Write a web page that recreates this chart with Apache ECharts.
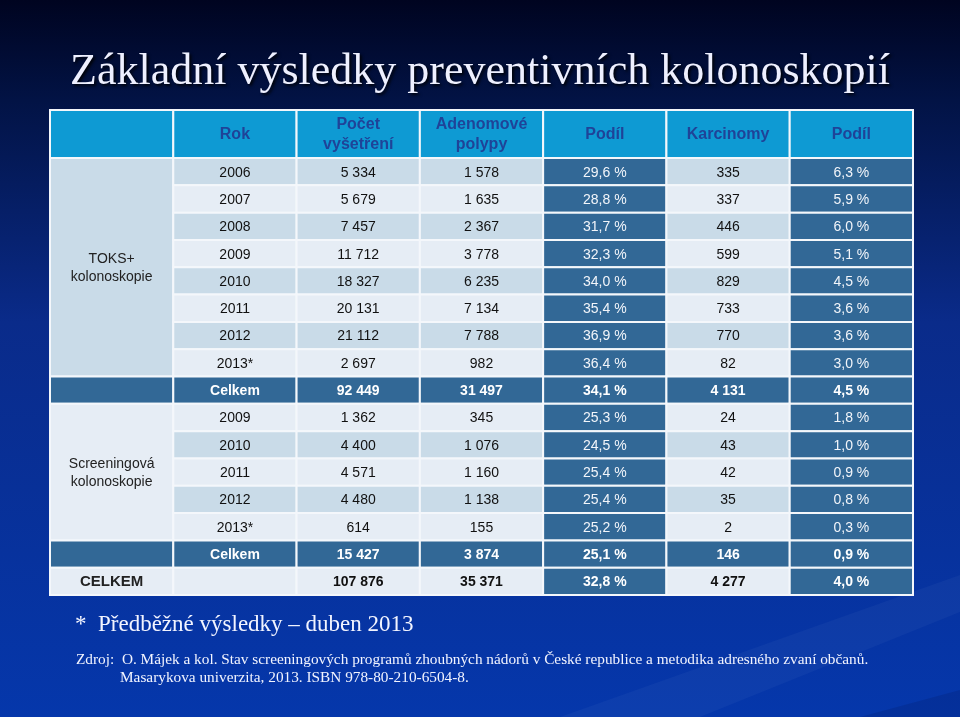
<!DOCTYPE html>
<html><head><meta charset="utf-8">
<script src="https://cdn.jsdelivr.net/npm/echarts@6/dist/echarts.min.js"></script>
<style>html,body{margin:0;padding:0;background:#031050}#c{width:960px;height:717px}</style>
</head><body><div id="c"></div>
<script>
// ---- data ----
const headers = ['', 'Rok', 'Počet\nvyšetření', 'Adenomové\npolypy', 'Podíl', 'Karcinomy', 'Podíl'];
const groupLabels = ['TOKS+\nkolonoskopie', 'Screeningová\nkolonoskopie'];
const toksYears = ['2006', '2007', '2008', '2009', '2010', '2011', '2012', '2013*'];
const toksExams = [5334, 5679, 7457, 11712, 18327, 20131, 21112, 2697];
const toksAdenoma = [1578, 1635, 2367, 3778, 6235, 7134, 7788, 982];
const toksAdenomaShare = [29.6, 28.8, 31.7, 32.3, 34.0, 35.4, 36.9, 36.4];
const toksCarcinoma = [335, 337, 446, 599, 829, 733, 770, 82];
const toksCarcinomaShare = [6.3, 5.9, 6.0, 5.1, 4.5, 3.6, 3.6, 3.0];
const toksTotal = [92449, 31497, 34.1, 4131, 4.5];
const scrYears = ['2009', '2010', '2011', '2012', '2013*'];
const scrExams = [1362, 4400, 4571, 4480, 614];
const scrAdenoma = [345, 1076, 1160, 1138, 155];
const scrAdenomaShare = [25.3, 24.5, 25.4, 25.4, 25.2];
const scrCarcinoma = [24, 43, 42, 35, 2];
const scrCarcinomaShare = [1.8, 1.0, 0.9, 0.8, 0.3];
const scrTotal = [15427, 3874, 25.1, 146, 0.9];
const grandTotal = [107876, 35371, 32.8, 4277, 4.0];
const totalLabel = 'Celkem';
const grandLabel = 'CELKEM';
const titleText = 'Základní výsledky preventivních kolonoskopií';
const footnote = '*  Předběžné výsledky – duben 2013';
const source1 = 'Zdroj:  O. Májek a kol. Stav screeningových programů zhoubných nádorů v České republice a metodika adresného zvaní občanů.';
const source2 = 'Masarykova univerzita, 2013. ISBN 978-80-210-6504-8.';

// ---- formatting ----
const fmtInt = v => String(v).replace(/\B(?=(\d{3})+(?!\d))/g, ' ');
const fmtPct = v => v.toFixed(1).replace('.', ',') + ' %';

// ---- build cells ----
const HEAD = 1.76;
const C = { head: '#0e9ad3', headText: '#1f4398', dark: '#326896', lightA: '#c9dbe8', lightB: '#e6edf5' };
const cells = [];
function add(col, row, span, text, fill, color, bold, size) {
  cells.push({ col, row, span, text, fill, color, bold, size });
}
headers.forEach((h, i) => add(i, 0, HEAD, h, C.head, C.headText, true, 16));
const light = r => (r % 2 === 0 ? C.lightA : C.lightB);
function addRow(r, vals, total) {
  const isPct = [false, false, false, true, false, true];
  vals.forEach((v, k) => {
    const col = k + 1;
    const txt = typeof v === 'string' ? v : (isPct[k] ? fmtPct(v) : fmtInt(v));
    const darkCol = col === 4 || col === 6;
    if (total) add(col, HEAD + r, 1, txt, C.dark, '#ffffff', true, 14);
    else if (darkCol) add(col, HEAD + r, 1, txt, C.dark, '#f2f5fa', false, 14);
    else add(col, HEAD + r, 1, txt, light(r), '#111111', false, 14);
  });
}
let r = 0;
add(0, HEAD, toksYears.length, groupLabels[0], C.lightA, '#222222', false, 14);
toksYears.forEach((y, i) => { addRow(r, [y, toksExams[i], toksAdenoma[i], toksAdenomaShare[i], toksCarcinoma[i], toksCarcinomaShare[i]], false); r++; });
add(0, HEAD + r, 1, '', C.dark, '#fff', true, 14);
addRow(r, [totalLabel].concat(toksTotal), true); r++;
add(0, HEAD + r, scrYears.length, groupLabels[1], C.lightB, '#222222', false, 14);
scrYears.forEach((y, i) => { addRow(r, [y, scrExams[i], scrAdenoma[i], scrAdenomaShare[i], scrCarcinoma[i], scrCarcinomaShare[i]], false); r++; });
add(0, HEAD + r, 1, '', C.dark, '#fff', true, 14);
addRow(r, [totalLabel].concat(scrTotal), true); r++;
// grand total row
add(0, HEAD + r, 1, grandLabel, light(r), '#222222', true, 15);
add(1, HEAD + r, 1, '', light(r), '#111', true, 14);
grandTotal.forEach((v, k) => {
  const col = k + 2;
  const isPct = k === 2 || k === 4;
  const txt = isPct ? fmtPct(v) : fmtInt(v);
  if (isPct) add(col, HEAD + r, 1, txt, C.dark, '#ffffff', true, 14);
  else add(col, HEAD + r, 1, txt, light(r), '#111111', true, 14);
});
r++;
const ROWS = HEAD + r;

const chart = echarts.init(document.getElementById('c'));
const bg = new echarts.graphic.LinearGradient(0, 0, 0, 1, [
  { offset: 0, color: '#000420' },
  { offset: 0.14, color: '#021345' },
  { offset: 0.45, color: '#0a2b8a' },
  { offset: 1, color: '#0537ab' }
]);
const serifStyle = (size) => ({ fontFamily: 'Liberation Serif', fontSize: size, fontWeight: 'normal', color: '#f2f4ff' });
chart.setOption({
  backgroundColor: bg,
  animation: false,
  graphic: [
    { type: 'polygon', silent: true, z: -1,
      shape: { points: [[560, 717], [960, 575], [960, 612], [700, 717]] },
      style: { fill: 'rgba(255,255,255,0.035)' } },
    { type: 'polygon', silent: true, z: -1,
      shape: { points: [[860, 717], [960, 690], [960, 717]] },
      style: { fill: 'rgba(0,0,40,0.12)' } }
  ],
  title: [
    { text: titleText, left: 'center', top: 45,
      textStyle: Object.assign(serifStyle(44), { color: '#eef0ff',
        textShadowColor: 'rgba(0,0,0,0.85)', textShadowOffsetX: 2, textShadowOffsetY: 2, textShadowBlur: 3 }) },
    { text: footnote, left: 70, top: 608, textStyle: serifStyle(23) },
    { text: source1, left: 71, top: 647, textStyle: serifStyle(15.3) },
    { text: source2, left: 115, top: 665, textStyle: serifStyle(15.3) }
  ],
  grid: { left: 50, right: 47, top: 110, bottom: 122 },
  xAxis: { type: 'value', min: 0, max: headers.length, show: false },
  yAxis: { type: 'value', min: 0, max: ROWS, inverse: true, show: false },
  series: [{
    type: 'custom',
    encode: { x: 0, y: 1 },
    data: cells.map(c => [c.col, c.row, c.span]),
    renderItem: function (params, api) {
      const c = cells[params.dataIndex];
      const p0 = api.coord([c.col, c.row]);
      const p1 = api.coord([c.col + 1, c.row + c.span]);
      const x = p0[0], y = p0[1], w = p1[0] - p0[0], h = p1[1] - p0[1];
      return {
        type: 'group',
        children: [
          { type: 'rect', shape: { x, y, width: w, height: h },
            style: { fill: c.fill, stroke: '#f4f7fb', lineWidth: 2 } },
          { type: 'text', style: { text: c.text, x: x + w / 2, y: y + h / 2 + 1, align: 'center', verticalAlign: 'middle',
            fill: c.color, font: (c.bold ? 'bold ' : '') + c.size + 'px "Liberation Sans", Arial, sans-serif', lineHeight: c.size + 4 } }
        ]
      };
    }
  }]
});
</script></body></html>
